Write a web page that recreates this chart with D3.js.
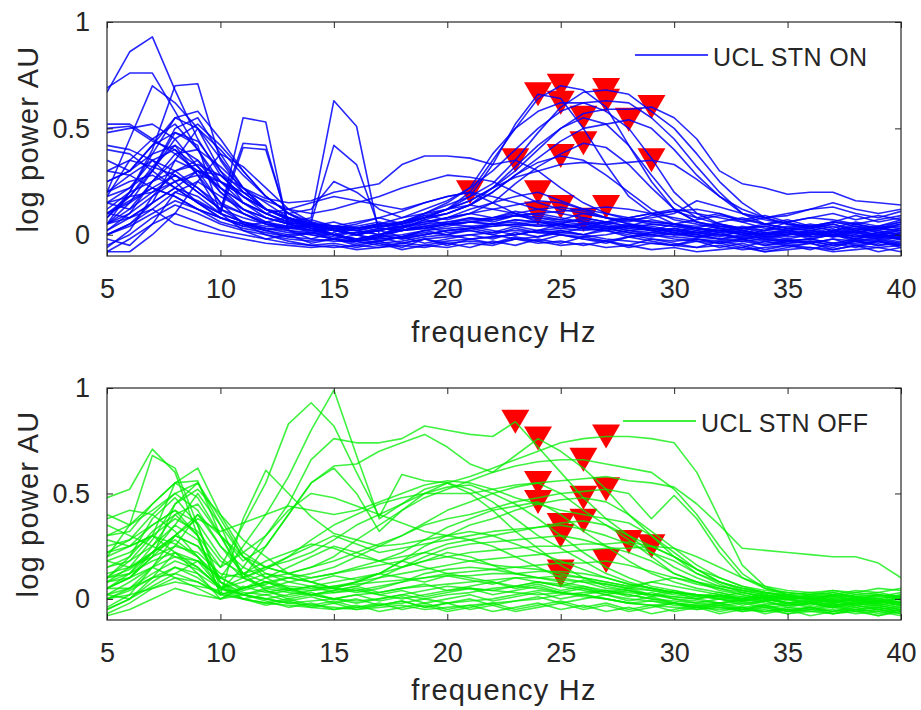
<!DOCTYPE html>
<html>
<head>
<meta charset="utf-8">
<script src="https://cdnjs.cloudflare.com/ajax/libs/d3/7.8.5/d3.min.js"></script>
<style>
body { margin: 0; background: #fff; }
svg text { font-family: Arial, "Liberation Sans", Helvetica, sans-serif; fill: #262626; }
</style>
</head>
<body>
<div id="chart"></div>
<script>
// frequency bins (Hz) shared by every spectrum
var freqs = [5,6,7,8,9,10,11,12,13,14,15,16,17,18,19,20,21,22,23,24,25,26,27,28,29,30,31,32,33,34,35,36,37,38,39,40];
var xTicks = [5, 10, 15, 20, 25, 30, 35, 40];
var yTicks = [0, 0.5, 1];

// STN ON spectra, one row per recording
var onSpectra = [
  [0.18,0.35,0.45,0.52,0.40,0.22, 0.12,0.08,0.05,0.02,0.03, 0.00,0.02,0.05,0.08,0.12, 0.18,0.33,0.52,0.66,0.64, 0.50,0.33,0.18,0.10,0.05, 0.03,0.02,0.00,-0.02,0.00, 0.02,0.00,-0.02,0.01,0.00],
  [0.08,0.20,0.38,0.55,0.50,0.30, 0.15,0.08,0.05,0.03,0.00, -0.03,0.00,0.04,0.08,0.12, 0.20,0.35,0.50,0.64,0.70, 0.68,0.60,0.42,0.25,0.12, 0.06,0.04,0.02,0.00,0.03, 0.02,0.04,0.01,0.03,0.02],
  [0.50,0.51,0.44,0.40,0.28,0.15, 0.10,0.05,0.03,0.04,0.02, 0.00,0.03,0.06,0.10,0.15, 0.22,0.38,0.50,0.58,0.62, 0.62,0.58,0.50,0.36,0.20, 0.10,0.05,0.03,0.04,0.02, 0.03,0.06,0.04,0.02,0.05],
  [0.25,0.30,0.42,0.48,0.44,0.30, 0.20,0.12,0.08,0.05,0.03, 0.02,0.04,0.05,0.08,0.10, 0.14,0.22,0.32,0.42,0.50, 0.55,0.52,0.42,0.28,0.15, 0.08,0.05,0.02,0.00,0.01, -0.02,0.00,0.02,-0.01,0.00],
  [0.05,0.12,0.25,0.38,0.40,0.32, 0.22,0.15,0.08,0.04,0.02, 0.00,0.02,0.04,0.06,0.08, 0.10,0.15,0.24,0.32,0.38, 0.43,0.41,0.33,0.22,0.12, 0.06,0.03,0.01,0.00,0.02, 0.01,-0.01,0.02,0.00,-0.02],
  [0.15,0.22,0.35,0.30,0.22,0.14, 0.10,0.06,0.04,0.02,0.00, -0.02,0.00,0.03,0.07,0.10, 0.14,0.20,0.28,0.34,0.37, 0.35,0.28,0.20,0.12,0.07, 0.05,0.03,0.00,-0.02,-0.03, -0.02,0.00,-0.03,-0.01,-0.02],
  [0.69,0.76,0.76,0.58,0.40,0.25, 0.15,0.10,0.06,0.04,0.03, 0.02,0.04,0.06,0.10,0.14, 0.18,0.24,0.35,0.48,0.60, 0.67,0.68,0.66,0.58,0.50, 0.38,0.25,0.15,0.08,0.05, 0.03,0.05,0.02,0.04,0.03],
  [0.20,0.45,0.70,0.62,0.50,0.36, 0.22,0.12,0.07,0.05,0.04, 0.03,0.05,0.08,0.12,0.16, 0.22,0.30,0.40,0.50,0.58, 0.62,0.63,0.62,0.55,0.45, 0.32,0.20,0.10,0.05,0.03, 0.02,0.00,0.03,0.01,0.02],
  [0.10,0.18,0.30,0.45,0.52,0.42, 0.30,0.18,0.10,0.06,0.04, 0.03,0.04,0.05,0.08,0.10, 0.14,0.20,0.28,0.36,0.44, 0.50,0.52,0.54,0.50,0.40, 0.28,0.18,0.10,0.08,0.09, 0.12,0.15,0.12,0.10,0.12],
  [0.05,0.15,0.30,0.50,0.55,0.38, 0.22,0.12,0.07,0.04,0.02, 0.02,0.04,0.06,0.09,0.12, 0.16,0.22,0.30,0.40,0.50, 0.57,0.59,0.59,0.60,0.55, 0.45,0.30,0.24,0.22,0.19, 0.20,0.20,0.16,0.15,0.14],
  [0.30,0.35,0.32,0.28,0.20,0.12, 0.08,0.05,0.04,0.05,0.04, 0.03,0.05,0.06,0.08,0.12, 0.16,0.22,0.27,0.30,0.33, 0.34,0.33,0.34,0.35,0.33, 0.26,0.18,0.12,0.08,0.05, 0.04,0.02,0.04,0.03,0.05],
  [0.02,0.08,0.15,0.22,0.18,0.10, 0.06,0.04,0.03,0.02,0.03, 0.05,0.08,0.11,0.15,0.18, 0.20,0.15,0.10,0.06,0.04, 0.03,0.02,0.04,0.03,0.01, 0.00,0.02,0.01,-0.01,0.00, 0.01,0.00,-0.02,0.00,0.01],
  [0.12,0.20,0.25,0.30,0.33,0.28, 0.22,0.17,0.15,0.16,0.20, 0.22,0.24,0.33,0.37,0.37, 0.36,0.33,0.35,0.30,0.22, 0.15,0.10,0.07,0.05,0.04, 0.03,0.02,0.03,0.04,0.02, 0.00,0.02,0.01,0.03,0.02],
  [0.00,0.05,0.12,0.20,0.16,0.10, 0.06,0.03,0.01,0.00,-0.02, -0.03,-0.01,0.02,0.05,0.08, 0.12,0.15,0.18,0.20,0.16, 0.12,0.08,0.05,0.03,0.02, 0.00,-0.02,-0.01,-0.03,-0.02, -0.04,-0.02,-0.03,-0.05,-0.03],
  [-0.05,0.00,0.08,0.14,0.10,0.05, 0.02,0.00,-0.02,-0.03,-0.02, -0.04,-0.03,-0.01,0.02,0.04, 0.06,0.07,0.09,0.10,0.08, 0.06,0.04,0.02,0.00,-0.01, -0.02,-0.03,-0.02,-0.04,-0.03, -0.02,-0.04,-0.03,-0.02,-0.04],
  [0.20,0.25,0.28,0.22,0.15,0.08, 0.04,0.02,0.00,0.01,-0.01, -0.02,0.00,0.02,0.03,0.05, 0.06,0.08,0.10,0.12,0.13, 0.11,0.08,0.05,0.03,0.02, 0.01,0.00,0.01,-0.01,0.00, 0.02,0.01,-0.01,0.00,0.02],
  [0.10,0.16,0.22,0.18,0.12,0.06, 0.03,0.01,-0.01,-0.02,-0.03, -0.03,-0.02,-0.01,0.00,0.02, 0.03,0.04,0.05,0.06,0.06, 0.07,0.05,0.03,0.02,0.00, -0.01,-0.02,-0.03,-0.02,-0.04, -0.03,-0.05,-0.03,-0.04,-0.02],
  [0.00,0.04,0.10,0.16,0.12,0.08, 0.05,0.03,0.02,0.01,0.00, 0.01,0.02,0.04,0.05,0.06, 0.07,0.08,0.09,0.10,0.11, 0.12,0.13,0.12,0.10,0.08, 0.06,0.04,0.03,0.01,0.00, 0.01,-0.01,0.00,-0.02,-0.01],
  [0.67,0.86,0.93,0.68,0.45,0.28, 0.18,0.12,0.08,0.05,0.04, 0.02,0.00,0.02,0.03,0.05, 0.06,0.05,0.04,0.05,0.03, 0.02,0.03,0.01,0.00,0.02, 0.00,-0.02,0.00,0.01,-0.01, 0.00,0.02,0.00,-0.02,0.01],
  [0.05,0.20,0.40,0.70,0.71,0.35, 0.20,0.12,0.08,0.05,0.03, 0.02,0.00,-0.02,0.00,0.02, 0.03,0.05,0.06,0.04,0.05, 0.03,0.02,0.04,0.02,0.00, 0.01,0.03,0.02,0.00,0.02, 0.04,0.02,0.05,0.03,0.06],
  [0.40,0.38,0.30,0.22,0.15,0.10, 0.55,0.53,0.02,0.00,-0.02, -0.03,-0.01,0.00,0.02,0.03, 0.04,0.05,0.07,0.06,0.05, 0.04,0.03,0.05,0.04,0.02, 0.03,0.01,0.02,0.00,0.01, -0.01,0.00,0.02,0.00,-0.02],
  [0.10,0.15,0.22,0.28,0.20,0.12, 0.43,0.42,0.05,0.02,0.00, 0.01,0.03,0.02,0.04,0.06, 0.08,0.07,0.09,0.08,0.06, 0.05,0.04,0.03,0.05,0.04, 0.02,0.04,0.03,0.05,0.03, 0.05,0.03,0.06,0.04,0.07],
  [0.20,0.28,0.35,0.40,0.32,0.22, 0.15,0.10,0.06,0.08,0.63, 0.51,0.00,-0.02,0.00,0.02, 0.03,0.04,0.05,0.04,0.05, 0.03,0.04,0.02,0.01,0.00, 0.02,0.00,-0.01,0.01,0.00, 0.02,0.00,0.01,-0.01,0.00],
  [0.48,0.50,0.52,0.45,0.32,0.20, 0.12,0.08,0.05,0.06,0.42, 0.33,0.03,0.02,0.04,0.05, 0.06,0.05,0.07,0.06,0.04, 0.05,0.03,0.04,0.02,0.03, 0.01,0.02,0.00,0.02,0.01, 0.00,0.02,0.04,0.01,0.03],
  [0.25,0.30,0.38,0.42,0.35,0.25, 0.18,0.12,0.10,0.12,0.25, 0.20,0.12,0.08,0.10,0.12, 0.14,0.12,0.10,0.08,0.07, 0.06,0.05,0.07,0.08,0.10, 0.16,0.13,0.10,0.07,0.05, 0.04,0.06,0.05,0.03,0.04],
  [0.15,0.18,0.20,0.25,0.28,0.25, 0.20,0.16,0.12,0.10,0.12, 0.15,0.18,0.22,0.25,0.28, 0.27,0.25,0.20,0.15,0.12, 0.10,0.08,0.07,0.06,0.05, 0.04,0.05,0.03,0.02,0.04, 0.03,0.01,0.03,0.02,0.00],
  [-0.08,-0.02,0.05,0.10,0.06,0.02, 0.00,-0.02,-0.04,-0.05,-0.06, -0.05,-0.06,-0.04,-0.05,-0.03, -0.02,-0.01,0.00,0.02,0.01, 0.00,-0.02,-0.03,-0.04,-0.05, -0.06,-0.05,-0.07,-0.06,-0.05, -0.06,-0.07,-0.05,-0.06,-0.08],
  [0.05,0.10,0.18,0.25,0.30,0.25, 0.18,0.12,0.08,0.03,0.00, -0.02,-0.04,-0.03,-0.01,0.00, 0.02,0.00,-0.02,-0.01,0.01, 0.03,0.02,0.00,-0.02,-0.03, -0.02,-0.04,-0.03,-0.05,-0.04, -0.03,-0.05,-0.04,-0.03,-0.05],
  [0.52,0.52,0.45,0.38,0.30,0.22, 0.15,0.10,0.12,0.15,0.18, 0.16,0.14,0.12,0.15,0.18, 0.20,0.18,0.15,0.12,0.10, 0.08,0.06,0.08,0.10,0.12, 0.10,0.08,0.06,0.08,0.10, 0.12,0.13,0.10,0.08,0.11],
  [-0.08,-0.08,0.00,0.10,0.25,0.38, 0.32,0.22,0.12,0.06,0.02, 0.00,0.02,0.04,0.03,0.05, 0.04,0.02,0.00,0.02,0.03, 0.05,0.06,0.08,0.10,0.11, 0.12,0.10,0.06,0.03,0.02, 0.00,0.02,0.01,-0.01,0.00],
  [0.35,0.30,0.42,0.55,0.58,0.45, 0.30,0.18,0.10,0.05,0.00, -0.03,-0.05,-0.04,-0.02,-0.01, 0.00,0.01,0.02,0.01,0.00, -0.01,0.00,0.02,0.03,0.01, -0.01,0.00,-0.02,-0.01,-0.03, -0.02,-0.04,-0.02,-0.03,-0.01],
  [0.18,0.22,0.30,0.48,0.42,0.10, 0.41,0.40,0.06,0.03,0.02, 0.00,-0.02,-0.01,0.01,0.00, -0.02,-0.01,0.00,0.02,0.00, -0.02,-0.03,-0.01,0.00,-0.02, -0.03,-0.04,-0.02,-0.05,-0.03, -0.04,-0.02,-0.05,-0.03,-0.06],
  [0.00,0.05,0.15,0.35,0.50,0.40, 0.28,0.18,0.10,0.04,0.00, -0.02,0.00,0.03,0.06,0.08, 0.10,0.12,0.14,0.16,0.15, 0.12,0.10,0.08,0.06,0.05, 0.07,0.09,0.07,0.05,0.06, 0.08,0.07,0.05,0.07,0.09],
  [0.10,0.08,0.12,0.05,0.02,0.00, -0.02,-0.04,-0.05,-0.06,-0.05, -0.07,-0.06,-0.05,-0.06,-0.04, -0.03,-0.04,-0.02,-0.03,-0.05, -0.04,-0.06,-0.05,-0.07,-0.06, -0.08,-0.07,-0.06,-0.08,-0.07, -0.06,-0.08,-0.07,-0.06,-0.05],
  [0.02,0.10,0.25,0.35,0.30,0.15, 0.05,0.00,-0.03,-0.05,-0.04, -0.06,-0.04,-0.07,-0.05,-0.06, -0.04,-0.05,-0.02,-0.04,-0.03, -0.05,-0.03,-0.06,-0.04,-0.05, -0.03,-0.06,-0.04,-0.07,-0.05, -0.04,-0.06,-0.03,-0.05,-0.04],
  [0.15,0.12,0.20,0.28,0.22,0.12, 0.06,0.02,0.04,0.01,0.03, 0.00,0.02,-0.01,0.02,0.00, 0.03,0.01,0.04,0.02,0.05, 0.03,0.06,0.04,0.02,0.05, 0.03,0.01,0.04,0.02,0.06, 0.03,0.05,0.02,0.04,0.06],
  [-0.06,0.02,0.18,0.30,0.35,0.20, 0.10,0.05,0.02,-0.02,0.01, -0.03,-0.01,-0.04,-0.02,-0.05, -0.02,-0.04,-0.01,-0.03,0.00, -0.02,-0.04,-0.01,-0.03,-0.05, -0.02,-0.04,-0.06,-0.03,-0.05, -0.07,-0.04,-0.06,-0.03,-0.05],
  [0.30,0.28,0.22,0.18,0.12,0.08, 0.04,0.06,0.03,0.05,0.02, 0.04,0.06,0.03,0.07,0.05, 0.08,0.06,0.09,0.07,0.05, 0.08,0.06,0.04,0.07,0.05, 0.03,0.06,0.08,0.05,0.07, 0.04,0.06,0.09,0.06,0.08],
  [0.08,0.18,0.32,0.42,0.28,0.10, 0.02,-0.02,0.00,-0.04,-0.02, -0.05,-0.03,-0.06,-0.02,-0.04, -0.06,-0.03,-0.05,-0.02,-0.04, -0.01,-0.03,-0.05,-0.02,-0.04, -0.06,-0.03,-0.05,-0.08,-0.06, -0.04,-0.07,-0.05,-0.08,-0.06],
  [-0.02,-0.05,0.05,0.20,0.25,0.18, 0.12,0.06,0.08,0.04,0.06, 0.03,0.05,0.02,0.04,0.01, 0.02,0.00,0.03,0.01,0.02, 0.00,0.02,-0.01,0.01,0.03, 0.01,-0.01,0.02,0.00,-0.02, 0.00,0.02,-0.01,0.01,-0.02],
  [0.42,0.40,0.35,0.25,0.15,0.08, 0.05,0.02,-0.01,0.01,-0.02, 0.00,-0.03,-0.01,-0.04,-0.02, 0.00,-0.02,0.01,-0.01,0.02, 0.00,0.03,0.01,-0.01,0.01, -0.01,0.01,-0.02,0.00,0.02, -0.01,0.01,-0.02,0.00,-0.01],
  [0.05,0.08,0.15,0.22,0.30,0.28, 0.18,0.10,0.05,0.07,0.04, 0.06,0.08,0.05,0.09,0.07, 0.10,0.08,0.11,0.09,0.07, 0.10,0.08,0.06,0.09,0.11, 0.08,0.10,0.07,0.09,0.06, 0.08,0.10,0.07,0.09,0.07]
];
var onPeakHz  = [21, 23, 24, 25, 25, 26, 26, 25, 27, 27, 28, 29, 29, 24, 24, 25, 26, 27];
var onPeakPow = [0.20, 0.35, 0.66, 0.70, 0.62, 0.55, 0.43, 0.37, 0.68, 0.63, 0.54, 0.60, 0.35, 0.20, 0.10, 0.13, 0.07, 0.13];

// STN OFF spectra
var offSpectra = [
  [0.15,0.20,0.32,0.40,0.30,0.15, 0.22,0.30,0.45,0.66,0.76, 0.74,0.74,0.76,0.82,0.80, 0.78,0.77,0.84,0.72,0.60, 0.48,0.38,0.30,0.22,0.15, 0.10,0.06,0.04,0.02,0.00, -0.02,0.00,-0.03,-0.01,-0.02],
  [0.05,0.12,0.25,0.40,0.45,0.30, 0.18,0.25,0.40,0.55,0.63, 0.64,0.70,0.74,0.78,0.72, 0.64,0.60,0.68,0.76,0.70, 0.62,0.52,0.40,0.30,0.20, 0.12,0.07,0.03,0.01,0.00, 0.02,-0.01,0.00,-0.02,0.01],
  [0.30,0.35,0.45,0.55,0.48,0.30, 0.20,0.15,0.18,0.22,0.28, 0.35,0.40,0.45,0.50,0.55, 0.58,0.62,0.66,0.70,0.74, 0.76,0.77,0.77,0.76,0.74, 0.60,0.38,0.16,0.06,0.02, 0.00,0.02,-0.01,0.01,0.00],
  [0.22,0.28,0.40,0.50,0.42,0.25, 0.15,0.10,0.12,0.15,0.20, 0.28,0.35,0.42,0.48,0.52, 0.56,0.60,0.63,0.65,0.66, 0.66,0.64,0.62,0.60,0.52, 0.40,0.25,0.12,0.05,0.02, 0.00,0.01,-0.01,0.02,0.00],
  [0.48,0.52,0.71,0.60,0.30,0.02, 0.05,0.08,0.10,0.12,0.15, 0.20,0.25,0.30,0.36,0.42, 0.46,0.50,0.53,0.55,0.50, 0.42,0.35,0.28,0.20,0.12, 0.08,0.05,0.02,0.00,-0.02, -0.01,-0.03,-0.02,-0.04,-0.02],
  [0.20,0.35,0.68,0.62,0.35,0.05, 0.10,0.15,0.12,0.10,0.12, 0.15,0.18,0.22,0.28,0.34, 0.38,0.42,0.44,0.46,0.40, 0.32,0.25,0.18,0.12,0.08, 0.05,0.03,0.01,0.00,0.02, 0.00,0.02,0.01,-0.01,0.00],
  [0.10,0.18,0.30,0.55,0.62,0.40, 0.22,0.15,0.12,0.15,0.18, 0.22,0.26,0.30,0.35,0.38, 0.40,0.43,0.46,0.48,0.50, 0.51,0.52,0.50,0.38,0.49, 0.38,0.22,0.10,0.05,0.03, 0.02,0.03,0.01,0.02,0.00],
  [0.05,0.10,0.20,0.45,0.55,0.35, 0.20,0.12,0.08,0.06,0.05, 0.08,0.12,0.18,0.25,0.30, 0.35,0.38,0.42,0.45,0.47, 0.48,0.46,0.40,0.32,0.24, 0.16,0.10,0.06,0.03,0.01, 0.00,-0.02,0.00,-0.01,-0.03],
  [0.00,0.05,0.15,0.30,0.40,0.25, 0.12,0.08,0.05,0.04,0.05, 0.08,0.12,0.18,0.22,0.26, 0.28,0.30,0.32,0.34,0.35, 0.33,0.30,0.26,0.22,0.18, 0.12,0.08,0.05,0.03,0.02, 0.01,0.03,0.01,0.00,0.02],
  [0.25,0.28,0.35,0.42,0.36,0.20, 0.10,0.05,0.03,0.02,0.04, 0.06,0.10,0.15,0.20,0.24, 0.26,0.27,0.28,0.29,0.30, 0.28,0.25,0.22,0.18,0.12, 0.08,0.04,0.02,0.00,-0.02, -0.03,-0.02,-0.04,-0.03,-0.05],
  [0.18,0.22,0.30,0.38,0.32,0.18, 0.12,0.15,0.20,0.25,0.30, 0.26,0.22,0.24,0.26,0.28, 0.30,0.32,0.33,0.34,0.36, 0.37,0.35,0.30,0.25,0.20, 0.14,0.08,0.05,0.03,0.01, 0.00,0.01,-0.01,0.00,-0.02],
  [0.08,0.12,0.22,0.28,0.20,0.08, 0.03,0.02,0.04,0.06,0.08, 0.10,0.12,0.15,0.18,0.20, 0.22,0.23,0.24,0.25,0.25, 0.26,0.26,0.27,0.25,0.20, 0.14,0.10,0.06,0.04,0.03, 0.02,0.01,0.03,0.02,0.01],
  [0.02,0.05,0.12,0.18,0.14,0.06, 0.02,0.00,0.02,0.04,0.06, 0.08,0.10,0.12,0.14,0.16, 0.18,0.19,0.20,0.21,0.22, 0.23,0.24,0.24,0.25,0.24, 0.20,0.15,0.10,0.06,0.04, 0.03,0.04,0.02,0.03,0.01],
  [-0.05,0.00,0.08,0.15,0.10,0.02, 0.00,-0.02,0.00,0.02,0.03, 0.04,0.06,0.08,0.10,0.12, 0.13,0.14,0.15,0.16,0.17, 0.17,0.18,0.16,0.13,0.10, 0.07,0.05,0.03,0.01,0.00, -0.02,-0.01,-0.03,-0.02,-0.04],
  [0.10,0.12,0.18,0.22,0.15,0.05, 0.02,0.00,-0.02,-0.01,0.00, 0.02,0.03,0.05,0.06,0.07, 0.08,0.09,0.10,0.10,0.11, 0.10,0.08,0.06,0.04,0.02, 0.01,0.00,-0.02,-0.01,-0.03, -0.02,-0.04,-0.03,-0.05,-0.03],
  [0.00,0.04,0.10,0.12,0.08,0.02, 0.05,0.08,0.06,0.05,0.06, 0.07,0.08,0.09,0.10,0.11, 0.11,0.12,0.12,0.13,0.13, 0.12,0.10,0.07,0.05,0.03, 0.02,0.01,0.00,0.02,0.00, 0.01,0.00,0.02,0.01,0.03],
  [0.05,0.10,0.20,0.30,0.25,0.15, 0.35,0.55,0.83,0.93,0.82, 0.60,0.39,0.59,0.56,0.55, 0.50,0.42,0.32,0.24,0.16, 0.10,0.06,0.04,0.02,0.00, -0.01,-0.02,0.00,-0.02,-0.03, -0.02,-0.04,-0.02,-0.03,-0.01],
  [0.08,0.10,0.15,0.20,0.18,0.10, 0.25,0.40,0.58,0.80,0.99, 0.68,0.38,0.45,0.52,0.55, 0.52,0.46,0.38,0.30,0.24, 0.18,0.12,0.08,0.05,0.03, 0.02,0.00,-0.01,0.01,-0.02, -0.01,-0.03,-0.01,-0.02,0.00],
  [0.20,0.25,0.35,0.42,0.30,0.02, 0.38,0.61,0.50,0.39,0.31, 0.28,0.25,0.26,0.28,0.30, 0.32,0.30,0.26,0.22,0.18, 0.14,0.10,0.07,0.05,0.03, 0.02,0.00,0.01,-0.01,0.00, 0.01,-0.01,0.00,0.02,0.01],
  [0.30,0.32,0.45,0.55,0.56,0.30, 0.10,0.25,0.40,0.55,0.62, 0.50,0.32,0.42,0.50,0.53, 0.54,0.50,0.45,0.38,0.30, 0.22,0.15,0.10,0.06,0.04, 0.02,0.01,-0.01,0.00,-0.02, -0.01,0.00,-0.02,-0.01,-0.03],
  [0.12,0.15,0.20,0.25,0.22,0.12, 0.10,0.14,0.20,0.28,0.35, 0.40,0.45,0.48,0.50,0.50, 0.50,0.52,0.54,0.55,0.56, 0.57,0.58,0.56,0.55,0.53, 0.45,0.35,0.24,0.23,0.22, 0.21,0.20,0.20,0.17,0.10],
  [-0.05,0.00,0.10,0.22,0.18,0.05, 0.00,-0.02,-0.03,-0.04,-0.05, -0.04,-0.03,-0.02,0.00,0.02, 0.03,0.05,0.06,0.08,0.07, 0.05,0.03,0.02,0.00,-0.02, -0.03,-0.04,-0.05,-0.04,-0.06, -0.05,-0.07,-0.06,-0.05,-0.07],
  [0.02,0.08,0.15,0.10,0.05,0.00, 0.05,0.10,0.15,0.20,0.25, 0.22,0.18,0.15,0.18,0.22, 0.20,0.16,0.12,0.10,0.08, 0.06,0.04,0.03,0.02,0.01, 0.00,-0.02,-0.01,-0.03,-0.02, -0.04,-0.03,-0.05,-0.04,-0.06],
  [0.35,0.30,0.25,0.20,0.15,0.05, 0.08,0.12,0.10,0.08,0.05, 0.04,0.02,0.00,0.02,0.04, 0.05,0.04,0.03,0.02,0.03, 0.02,0.00,-0.02,-0.01,-0.03, -0.04,-0.03,-0.05,-0.06,-0.04, -0.05,-0.04,-0.06,-0.05,-0.04],
  [0.00,0.02,0.05,0.08,0.06,0.04, 0.15,0.30,0.42,0.50,0.48, 0.44,0.40,0.36,0.32,0.30, 0.28,0.25,0.20,0.15,0.10, 0.08,0.05,0.04,0.02,0.01, 0.00,0.02,0.00,-0.01,0.01, 0.00,0.02,0.01,-0.01,0.00],
  [0.15,0.18,0.25,0.35,0.50,0.35, 0.10,0.06,0.04,0.02,0.00, -0.02,0.00,0.02,0.04,0.06, 0.05,0.04,0.06,0.08,0.06, 0.04,0.02,0.00,-0.01,-0.02, -0.03,-0.02,-0.04,-0.03,-0.05, -0.04,-0.06,-0.05,-0.04,-0.06],
  [-0.08,-0.05,0.00,0.05,0.02,0.00, 0.02,0.05,0.08,0.10,0.12, 0.14,0.16,0.18,0.15,0.12, 0.10,0.08,0.06,0.05,0.03, 0.02,0.00,-0.02,-0.03,-0.04, -0.05,-0.04,-0.06,-0.05,-0.07, -0.06,-0.05,-0.07,-0.06,-0.08],
  [0.05,0.05,0.10,0.15,0.12,0.05, 0.02,0.00,-0.02,-0.03,-0.04, -0.05,-0.04,-0.03,-0.05,-0.04, -0.03,-0.02,-0.01,0.00,0.02, 0.03,0.04,0.02,0.00,-0.01, -0.02,-0.03,-0.02,-0.04,-0.03, -0.02,-0.03,-0.02,-0.01,-0.03],
  [0.10,0.14,0.22,0.30,0.38,0.32, 0.36,0.40,0.44,0.42,0.40, 0.42,0.46,0.50,0.54,0.56, 0.55,0.52,0.48,0.45,0.42, 0.40,0.38,0.36,0.30,0.22, 0.14,0.08,0.04,0.02,0.01, 0.00,-0.01,0.01,0.00,-0.02],
  [0.22,0.25,0.30,0.26,0.20,0.10, 0.12,0.18,0.22,0.26,0.24, 0.20,0.18,0.20,0.22,0.20, 0.18,0.16,0.15,0.14,0.12, 0.10,0.08,0.06,0.08,0.10, 0.08,0.06,0.04,0.03,0.02, 0.03,0.02,0.04,0.03,0.05],
  [0.40,0.35,0.42,0.50,0.55,0.38, 0.20,0.10,0.05,0.02,0.00, -0.01,0.00,0.02,0.00,-0.02, -0.01,0.00,0.02,0.04,0.03, 0.01,0.00,-0.02,-0.03,-0.02, -0.04,-0.05,-0.04,-0.06,-0.05, -0.06,-0.07,-0.05,-0.06,-0.05],
  [0.08,0.15,0.28,0.45,0.52,0.40, 0.28,0.20,0.12,0.08,0.05, 0.03,0.05,0.08,0.12,0.14, 0.15,0.14,0.12,0.10,0.09, 0.08,0.07,0.05,0.04,0.03, 0.02,0.01,0.03,0.01,0.00, 0.02,0.04,0.03,0.05,0.04],
  [0.05,0.10,0.22,0.35,0.28,0.08, 0.02,-0.01,-0.04,-0.02,-0.05, -0.03,-0.06,-0.04,-0.02,-0.05, -0.03,-0.06,-0.04,-0.02,-0.05, -0.03,-0.06,-0.04,-0.07,-0.05, -0.03,-0.06,-0.04,-0.07,-0.05, -0.08,-0.06,-0.04,-0.07,-0.05],
  [0.18,0.15,0.22,0.30,0.25,0.10, 0.05,0.08,0.04,0.06,0.03, 0.05,0.02,0.04,0.01,0.03, 0.05,0.02,0.04,0.06,0.03, 0.05,0.02,0.04,0.01,0.03, 0.00,0.02,-0.01,0.01,-0.02, 0.00,-0.02,0.01,-0.01,0.02],
  [-0.04,0.02,0.15,0.25,0.40,0.30, 0.12,0.04,0.00,-0.03,-0.01, -0.04,-0.02,-0.05,-0.03,-0.06, -0.04,-0.02,-0.05,-0.03,-0.01, -0.04,-0.02,-0.05,-0.03,-0.06, -0.04,-0.07,-0.05,-0.03,-0.06, -0.04,-0.07,-0.05,-0.08,-0.06],
  [0.28,0.25,0.30,0.22,0.12,0.00, 0.06,0.03,0.05,0.02,0.04, 0.06,0.03,0.05,0.07,0.04, 0.06,0.08,0.05,0.07,0.04, 0.06,0.03,0.05,0.02,0.04, 0.01,0.03,0.00,0.02,-0.01, 0.01,-0.02,0.00,-0.03,-0.01],
  [0.10,0.20,0.38,0.48,0.35,0.08, 0.00,-0.03,-0.01,-0.04,-0.02, -0.05,-0.03,-0.01,-0.04,-0.02, 0.00,-0.03,-0.01,0.01,-0.02, 0.00,0.02,-0.01,0.01,-0.02, -0.04,-0.02,-0.05,-0.03,-0.06, -0.04,-0.06,-0.03,-0.05,-0.07],
  [0.02,0.00,0.06,0.12,0.18,0.10, 0.04,0.07,0.10,0.08,0.11, 0.09,0.12,0.10,0.08,0.11, 0.09,0.07,0.10,0.08,0.06, 0.09,0.07,0.05,0.08,0.06, 0.04,0.02,0.00,0.03,0.01, -0.01,0.02,0.00,-0.02,0.01],
  [0.38,0.42,0.40,0.32,0.20,0.05, 0.02,0.04,0.01,0.03,0.00, 0.02,-0.01,0.01,-0.02,0.00, 0.02,-0.01,0.01,0.03,0.00, 0.02,0.04,0.01,0.03,0.00, -0.02,0.00,-0.03,-0.01,-0.04, -0.02,-0.04,-0.01,-0.03,-0.05],
  [-0.07,-0.02,0.05,0.10,0.08,0.03, 0.00,0.02,-0.01,0.01,-0.02, 0.00,-0.03,-0.01,-0.04,-0.02, -0.05,-0.03,-0.06,-0.04,-0.02, -0.05,-0.03,-0.06,-0.04,-0.02, -0.05,-0.03,-0.06,-0.04,-0.07, -0.05,-0.03,-0.06,-0.08,-0.05]
];
var offPeakHz  = [23, 24, 27, 26, 24, 24, 27, 26, 25, 25, 26, 28, 29, 27, 25, 25];
var offPeakPow = [0.84, 0.76, 0.77, 0.66, 0.55, 0.46, 0.52, 0.48, 0.35, 0.30, 0.37, 0.27, 0.25, 0.18, 0.11, 0.13];

var width = 921, height = 710;
var plotLeft = 107, plotRight = 901;
var ink = "#262626";

var svg = d3.select("#chart").append("svg")
    .attr("width", width)
    .attr("height", height);

svg.append("rect").attr("width", width).attr("height", height).attr("fill", "#fff");

var x = d3.scaleLinear().domain([5, 40]).range([plotLeft, plotRight]);

function drawPanel(p) {
  var y = d3.scaleLinear().domain([-0.1, 1]).range([p.bottom, p.top]);
  var g = svg.append("g");

  g.append("clipPath").attr("id", "clip-" + p.name)
    .append("rect")
    .attr("x", plotLeft).attr("y", p.top)
    .attr("width", plotRight - plotLeft).attr("height", p.bottom - p.top);

  // red peak markers, lines are drawn over them
  g.append("g").selectAll("path")
    .data(p.peakHz)
    .enter().append("path")
    .attr("d", "M-14,-12L14,-12L0,12Z")
    .attr("transform", function(d, i) { return "translate(" + x(d) + "," + y(p.peakPow[i]) + ")"; })
    .attr("fill", "#ff0000");

  var line = d3.line()
    .x(function(d, i) { return x(freqs[i]); })
    .y(function(d) { return y(d); });

  g.append("g")
    .attr("clip-path", "url(#clip-" + p.name + ")")
    .selectAll("path")
    .data(p.spectra)
    .enter().append("path")
    .attr("d", line)
    .attr("fill", "none")
    .attr("stroke", p.color)
    .attr("stroke-opacity", p.opacity)
    .attr("stroke-width", 1.6)
    .attr("stroke-linejoin", "round");

  // axes, ticks point inward on all four sides
  g.append("g")
    .attr("transform", "translate(0," + p.bottom + ")")
    .call(d3.axisBottom(x).tickValues(xTicks).tickSizeInner(-6).tickSizeOuter(0).tickPadding(23));
  g.append("g")
    .attr("transform", "translate(0," + p.top + ")")
    .call(d3.axisTop(x).tickValues(xTicks).tickSizeInner(-6).tickSizeOuter(0).tickFormat(""));
  g.append("g")
    .attr("transform", "translate(" + plotLeft + ",0)")
    .call(d3.axisLeft(y).tickValues(yTicks).tickSizeInner(-6).tickSizeOuter(0).tickPadding(17)
      .tickFormat(function(d) { return d; }));
  g.append("g")
    .attr("transform", "translate(" + plotRight + ",0)")
    .call(d3.axisRight(y).tickValues(yTicks).tickSizeInner(-6).tickSizeOuter(0).tickFormat(""));

  g.selectAll(".domain").remove();
  g.selectAll(".tick line").attr("stroke", ink);
  g.selectAll(".tick text")
    .attr("font-size", "27px")
    .attr("font-family", "Arial, 'Liberation Sans', sans-serif")
    .attr("fill", ink);

  g.append("rect")
    .attr("x", plotLeft).attr("y", p.top)
    .attr("width", plotRight - plotLeft).attr("height", p.bottom - p.top)
    .attr("fill", "none")
    .attr("stroke", ink)
    .attr("stroke-width", 1.2);

  g.append("text")
    .attr("x", (plotLeft + plotRight) / 2)
    .attr("y", p.bottom + p.xLabelGap)
    .attr("text-anchor", "middle")
    .attr("font-size", "29px")
    .attr("letter-spacing", "1.2px")
    .text("frequency Hz");

  g.append("text")
    .attr("transform", "translate(38," + (p.top + p.bottom) / 2 + ") rotate(-90)")
    .attr("text-anchor", "middle")
    .attr("font-size", "29px")
    .attr("letter-spacing", "1.2px")
    .text("log power AU");

  // legend, no box
  g.append("line")
    .attr("x1", p.legendX).attr("x2", p.legendX + 73)
    .attr("y1", p.top + 33).attr("y2", p.top + 33)
    .attr("stroke", p.color)
    .attr("stroke-width", 1.5);
  g.append("text")
    .attr("x", p.legendX + 78)
    .attr("y", p.top + 44)
    .attr("font-size", "25px")
    .attr("letter-spacing", "0.4px")
    .text(p.label);
}

drawPanel({ name: "on", top: 22, bottom: 256, spectra: onSpectra, peakHz: onPeakHz, peakPow: onPeakPow,
  color: "#0000ff", opacity: 0.85, label: "UCL STN ON", legendX: 635, xLabelGap: 86 });
drawPanel({ name: "off", top: 388, bottom: 620, spectra: offSpectra, peakHz: offPeakHz, peakPow: offPeakPow,
  color: "#00ee00", opacity: 0.75, label: "UCL STN OFF", legendX: 623, xLabelGap: 80 });
</script>
</body>
</html>
